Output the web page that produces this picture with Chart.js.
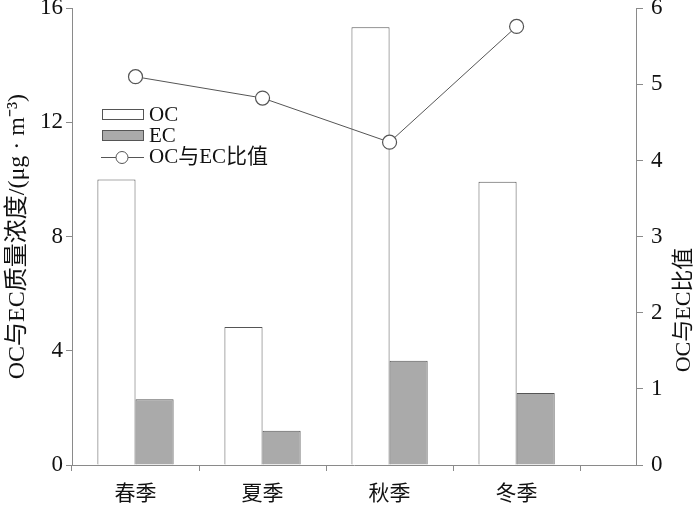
<!DOCTYPE html>
<html>
<head>
<meta charset="utf-8">
<script src="https://cdn.jsdelivr.net/npm/chart.js@4"></script>
<style>
  html, body { margin:0; padding:0; background:#fff; }
  #wrap { width:700px; height:507px; }
</style>
</head>
<body>
<div id="wrap"><canvas id="myChart"></canvas></div>
<script>
const seasons = ['春季', '夏季', '秋季', '冬季'];
const ocValues = [10.0, 4.83, 15.33, 9.92];
const ecValues = [2.3, 1.2, 3.65, 2.52];
const ratioValues = [5.1, 4.82, 4.24, 5.76];
const leftTicks = [0, 4, 8, 12, 16];
const rightTicks = [0, 1, 2, 3, 4, 5, 6];

const fontFam = '"Liberation Serif", "Noto Sans CJK SC", serif';
const axisGray = '#8a8a8a';
const lineGray = '#555';

// legend + right axis title drawn by hand (title reads bottom to top in the original)
const extras = {
    id: 'extras',
    afterDraw(chart) {
        const c = chart.ctx;
        c.save();
        c.font = '21px ' + fontFam;
        c.textBaseline = 'middle';
        c.lineWidth = 1;
        c.strokeStyle = lineGray;
        c.fillStyle = '#fff';
        c.fillRect(102.5, 109.5, 41, 10);
        c.strokeRect(102.5, 109.5, 41, 10);
        c.fillStyle = '#aaaaaa';
        c.fillRect(102.5, 130.5, 41, 10);
        c.strokeRect(102.5, 130.5, 41, 10);
        c.beginPath();
        c.moveTo(101, 157.5);
        c.lineTo(144, 157.5);
        c.stroke();
        c.beginPath();
        c.arc(122, 157.5, 6, 0, Math.PI * 2);
        c.fillStyle = '#fff';
        c.fill();
        c.stroke();
        c.fillStyle = '#111';
        c.fillText('OC', 149, 115);
        c.fillText('EC', 149, 136);
        c.fillText('OC与EC比值', 149, 157);

        c.translate(684, 310);
        c.rotate(-Math.PI / 2);
        c.textAlign = 'center';
        c.font = '22px ' + fontFam;
        c.fillText('OC与EC比值', 0, 0);
        c.restore();
    }
};

const ctx = document.getElementById('myChart').getContext('2d');
const myChart = new Chart(ctx, {
    type: 'bar',
    data: {
        datasets: [{
            label: 'OC',
            data: ocValues.map((v, i) => ({x: i, y: v})),
            backgroundColor: '#ffffff',
            borderColor: lineGray,
            borderWidth: 1,
            categoryPercentage: 0.6,
            barPercentage: 1.0,
            yAxisID: 'y',
            order: 2
        }, {
            label: 'EC',
            data: ecValues.map((v, i) => ({x: i, y: v})),
            backgroundColor: '#aaaaaa',
            borderColor: lineGray,
            borderWidth: 1,
            categoryPercentage: 0.6,
            barPercentage: 1.0,
            yAxisID: 'y',
            order: 2
        }, {
            type: 'line',
            label: 'OC与EC比值',
            data: ratioValues.map((v, i) => ({x: i, y: v})),
            borderColor: lineGray,
            borderWidth: 1,
            pointRadius: 7,
            pointBackgroundColor: '#fff',
            pointBorderColor: lineGray,
            pointBorderWidth: 1.2,
            tension: 0,
            yAxisID: 'y1',
            order: 1
        }]
    },
    options: {
        responsive: true,
        maintainAspectRatio: false,
        animation: false,
        layout: { padding: { top: 8, left: 0, right: 0, bottom: 0 } },
        scales: {
            x: {
                type: 'linear',
                min: -0.5,
                max: 3.94,
                offset: false,
                afterBuildTicks: (s) => { s.ticks = seasons.map((_, i) => ({value: i})); },
                afterFit: (s) => { s.height = 42; s.paddingLeft = 0; s.paddingRight = 0; },
                grid: { offset: true, drawOnChartArea: false, color: axisGray, tickLength: 6 },
                border: { color: axisGray },
                ticks: {
                    color: '#111',
                    font: { size: 21, family: '"Noto Sans CJK SC", sans-serif' },
                    padding: 8,
                    maxRotation: 0,
                    callback: (v) => seasons[v]
                }
            },
            y: {
                position: 'left',
                min: 0,
                max: 16,
                afterBuildTicks: (s) => { s.ticks = leftTicks.map(v => ({value: v})); },
                afterFit: (s) => { s.width = 72; s.paddingTop = 0; s.paddingBottom = 0; },
                grid: { drawOnChartArea: false, color: axisGray, tickLength: 6 },
                border: { color: axisGray },
                ticks: { color: '#111', font: { size: 23, family: fontFam }, padding: 3 },
                title: {
                    display: true,
                    text: 'OC与EC质量浓度/(μg · m⁻³)',
                    color: '#111',
                    font: { size: 24, family: fontFam },
                    padding: { top: 3, bottom: 0 }
                }
            },
            y1: {
                position: 'right',
                min: 0,
                max: 6,
                afterBuildTicks: (s) => { s.ticks = rightTicks.map(v => ({value: v})); },
                afterFit: (s) => { s.width = 64; s.paddingTop = 0; s.paddingBottom = 0; },
                grid: { drawOnChartArea: false, color: axisGray, tickLength: 7 },
                border: { color: axisGray },
                ticks: { color: '#111', font: { size: 23, family: fontFam }, padding: 8 }
            }
        },
        plugins: {
            legend: { display: false },
            tooltip: { enabled: false }
        }
    },
    plugins: [extras]
});
</script>
</body>
</html>
